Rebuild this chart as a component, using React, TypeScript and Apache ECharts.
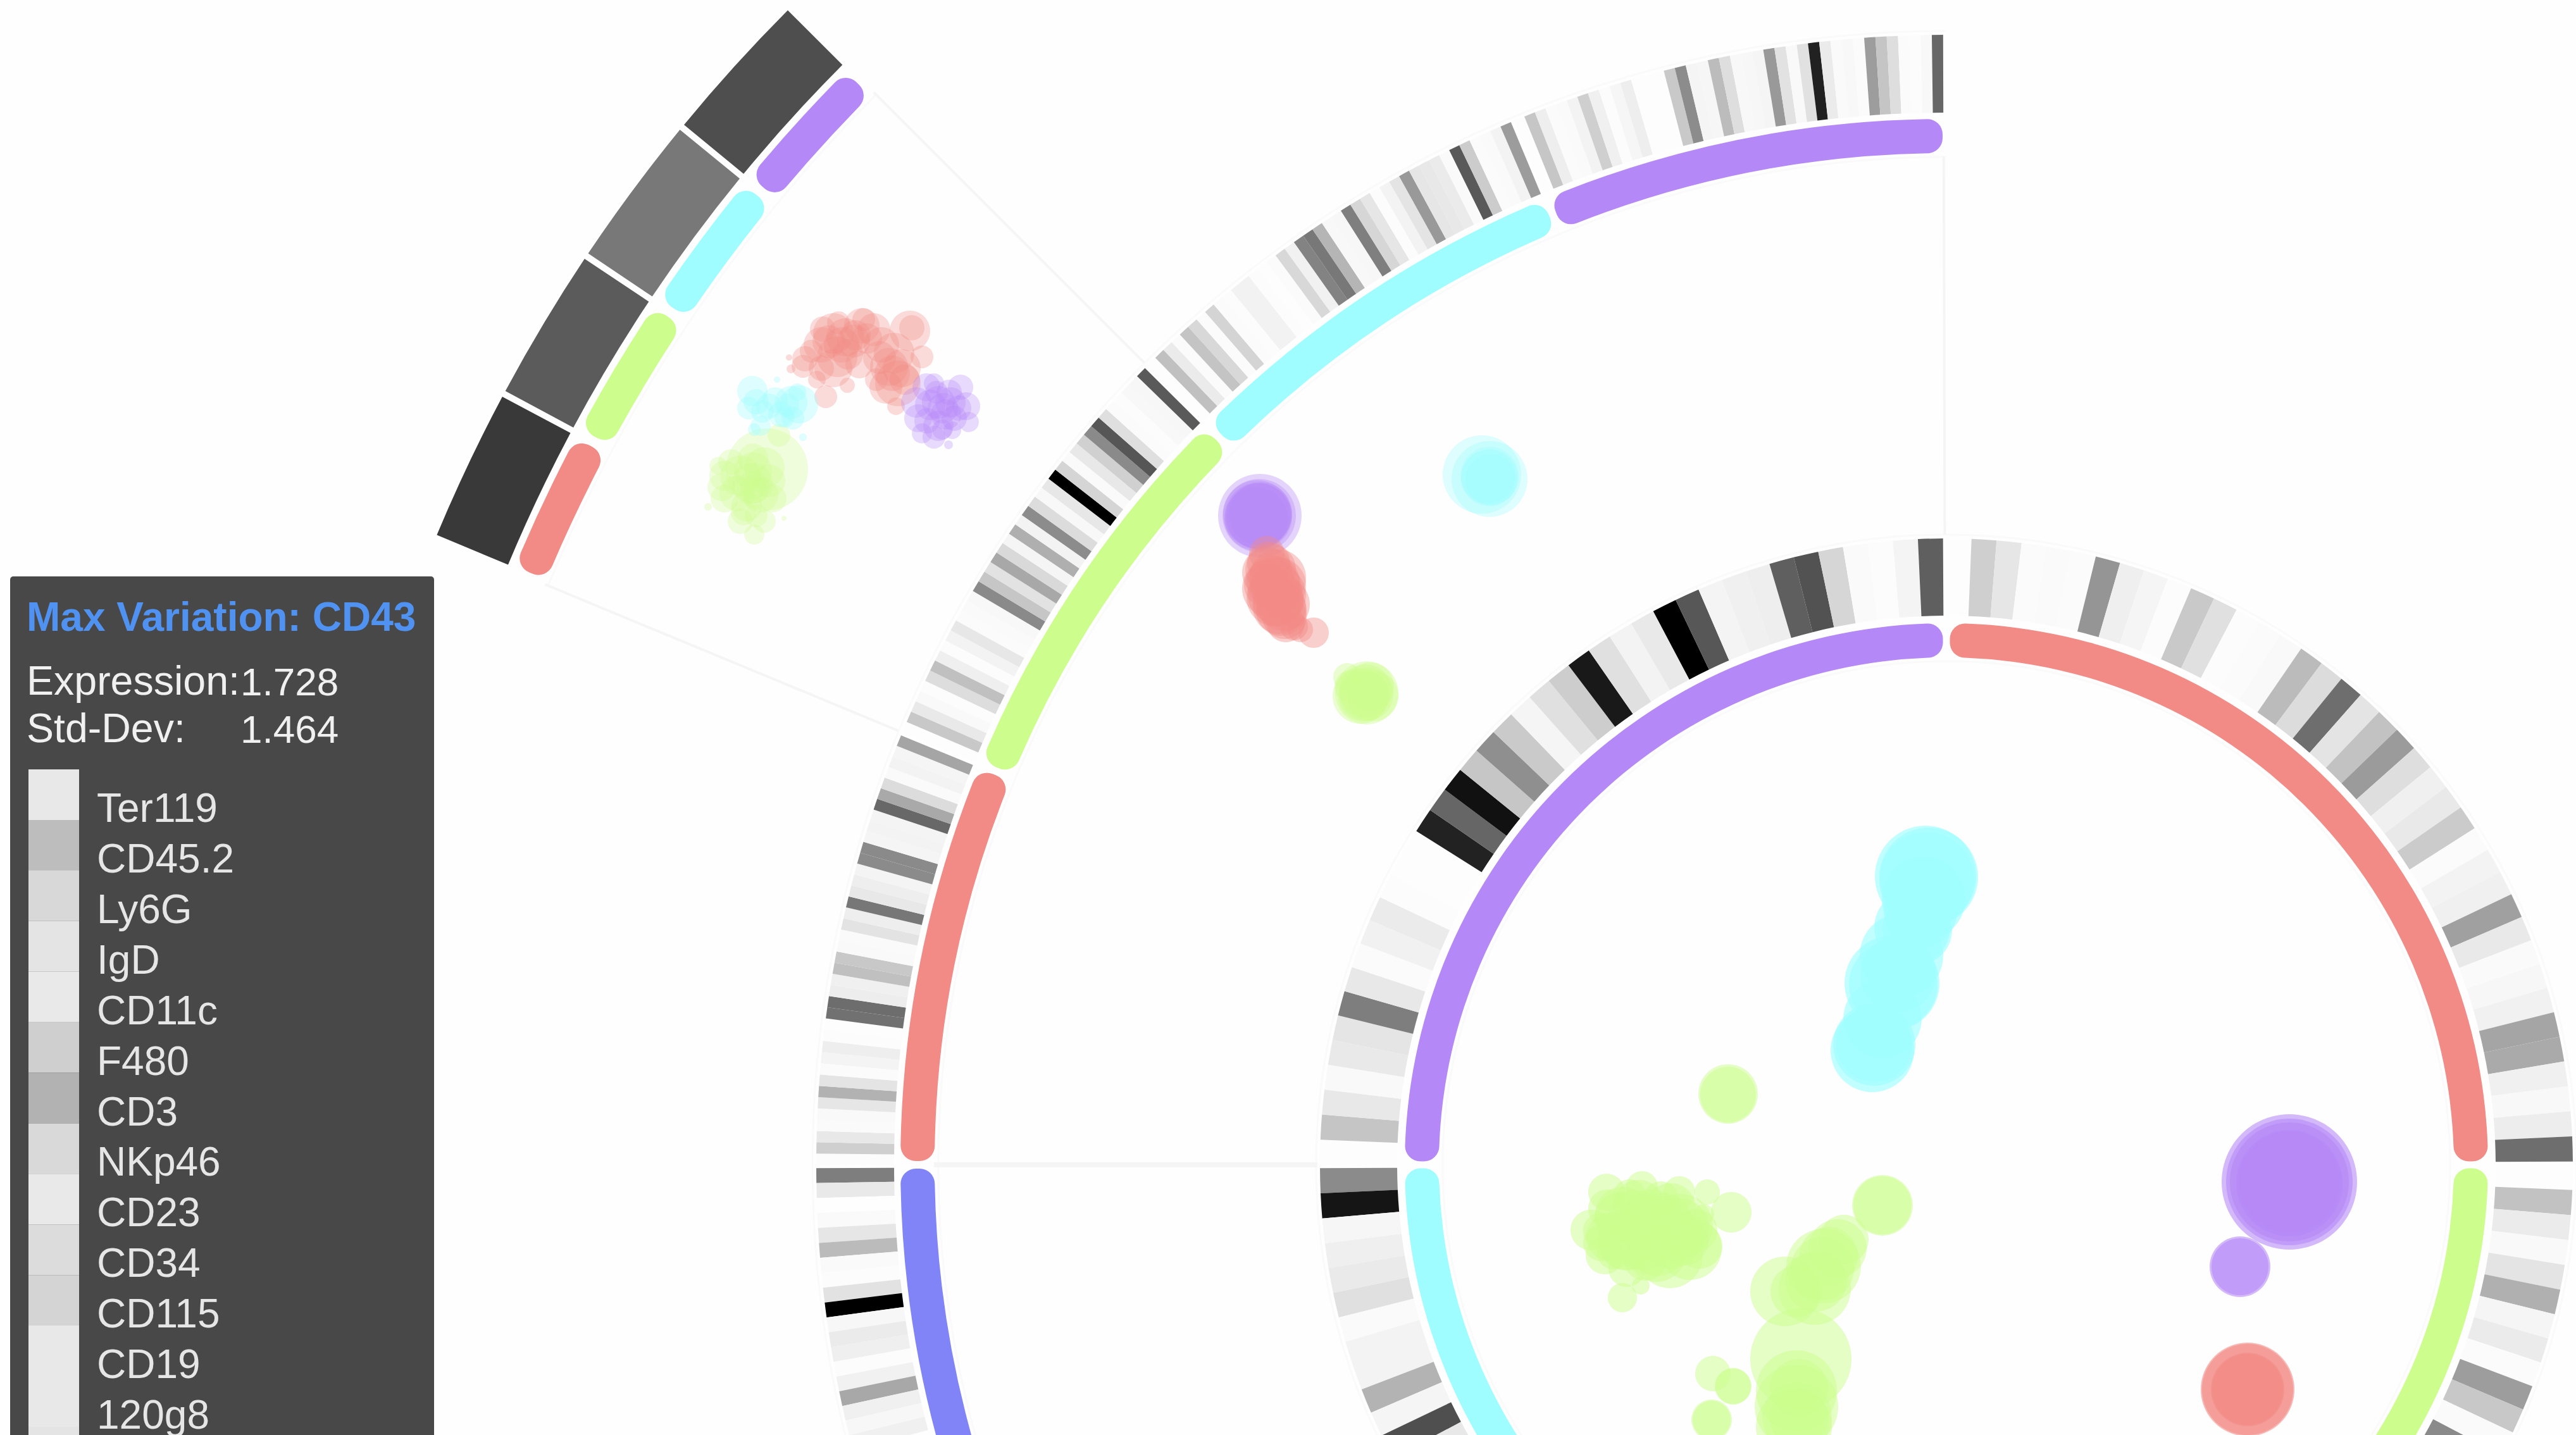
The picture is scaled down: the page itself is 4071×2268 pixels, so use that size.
import React, { useEffect, useRef } from "react";
import * as echarts from "echarts";

// ---------- marker legend ----------
const markers = ["Ter119", "CD45.2", "Ly6G", "IgD", "CD11c", "F480", "CD3", "NKp46", "CD23", "CD34", "CD115", "CD19", "120g8"];
const legendShades = [0xe8, 0xbd, 0xd8, 0xe4, 0xe9, 0xcf, 0xb2, 0xd9, 0xe9, 0xdc, 0xd4, 0xe8, 0xe8];

// ---------- inner ring expression shades (clockwise, 39 markers per cluster) ----------
const innerRed = [0xfd, 0xcf, 0xe6, 0xfb, 0xfa, 0xfb, 0x95, 0xef, 0xf5, 0xfc, 0xc9, 0xe0, 0xfc, 0xfb, 0xf9, 0xbb, 0xdc, 0x6e, 0xe4, 0xc2, 0x9b, 0xde, 0xf0, 0xe9, 0xcb, 0xfb, 0xf3, 0xf0, 0xa0, 0xe9, 0xfa, 0xf7, 0xf1, 0xa5, 0xaa, 0xf0, 0xf8, 0xed, 0x6e];
const innerGreen = [0xfd, 0xc2, 0xeb, 0xf9, 0xe4, 0xb0, 0xf5, 0xeb, 0xfb, 0x9d, 0xc8, 0xfa, 0x8a];
const innerCyanFromEnd = [0x8b, 0x15, 0xf6, 0xef, 0xea, 0xe0, 0xfa, 0xf3, 0xf3, 0xb3, 0xf5, 0x4f, 0xe8];
const innerPurple = [0xfd, 0xc5, 0xe8, 0xf9, 0xe9, 0xe5, 0x7e, 0xe8, 0xfb, 0xf1, 0xeb, 0xfc, 0xfd, 0xfd, 0x22, 0x66, 0x11, 0xc6, 0x8f, 0xca, 0xf5, 0xe0, 0xcd, 0x19, 0xe0, 0xf3, 0xe9, 0x00, 0x57, 0xf4, 0xf0, 0xee, 0x5f, 0x52, 0xd6, 0xfa, 0xfc, 0xf4, 0x5f];

// ---------- middle ring expression shades ----------
const middleRed = [0xfc, 0xcf, 0xe8, 0xfa, 0xf9, 0xe6, 0xb2, 0xe4, 0xfb, 0xf4, 0xee, 0xfc, 0xfd, 0x71, 0x6d, 0xed, 0xf0, 0xc0, 0xc8, 0xf9, 0xfa, 0xe3, 0xee, 0x77, 0xe8, 0xee, 0xf4, 0x8b, 0x8a, 0xf5, 0xf3, 0xf4, 0x68, 0xa9, 0xdc, 0xfa, 0xf3, 0xf5, 0xa5];
const middleGreen = [0xfd, 0xc8, 0xe9, 0xf9, 0xfc, 0xdd, 0xc0, 0xef, 0xfc, 0xf3, 0xe7, 0xfb, 0xfa, 0xf8, 0x8a, 0xc6, 0xe2, 0xa8, 0xd9, 0xf5, 0xaf, 0xf3, 0x8c, 0xdc, 0xf8, 0xe7, 0x00, 0xd5, 0xfa, 0xe8, 0xd0, 0x8a, 0x56, 0xdf, 0xfb, 0xfc, 0xf8, 0xf7, 0x5a];
const middleCyan = [0xfd, 0xc0, 0xeb, 0xfb, 0xc4, 0xd8, 0xfb, 0xd4, 0xfb, 0xfc, 0xf2, 0xf2, 0xfc, 0xfd, 0xfb, 0xd8, 0xf1, 0x83, 0x78, 0xb5, 0xf8, 0xf7, 0x7f, 0xd6, 0xe6, 0xfc, 0xf3, 0xe4, 0x99, 0xe6, 0xe8, 0xeb, 0xfa, 0x59, 0xcc, 0xfb, 0xfa, 0xf3, 0x9c];
const middlePurple = [0xfd, 0xc6, 0xee, 0xfb, 0xfa, 0xf3, 0xcf, 0xf0, 0xfc, 0xf6, 0xee, 0xfd, 0xfd, 0xfd, 0xc9, 0x8c, 0xf5, 0xf6, 0xbc, 0xde, 0xf8, 0xf7, 0xf5, 0x99, 0xe2, 0xf9, 0xe1, 0x21, 0xeb, 0xfa, 0xf8, 0xfb, 0x9d, 0xc5, 0xde, 0xfb, 0xfc, 0xf8, 0x67];
const middleBlueFromEnd = [0x7e, 0xe9, 0xfe, 0xfa, 0xe6, 0xbb, 0xfa, 0xfc, 0xe2, 0x00, 0xf7, 0xeb, 0xef, 0xfc, 0xf1, 0xa8, 0xf0, 0xf7, 0xf0];

// ---------- lens ring ----------
const lensShades = [0x39, 0x5b, 0x78, 0x4e];

// ---------- scatter clusters: [x, y, radius] ----------
const lensRedCells = [[1317,527,32],[1336,533,30],[1362,515,28],[1381,521,26],[1298,545,28],[1323,564,32],[1349,539,26],[1272,567,20],[1269,579,18],[1298,582,20],[1317,582,30],[1358,576,22],[1393,545,28],[1413,558,32],[1425,582,30],[1419,606,36],[1400,612,26],[1441,518,20],[1438,523,32],[1457,564,18],[1305,627,18],[1291,600,14],[1339,609,12],[1416,642,14],[1247,565,5],[1250,583,7],[1330,545,28],[1405,580,30],[1352,530,24],[1310,540,26],[1340,560,24],[1370,535,24],[1390,565,26],[1410,590,28],[1300,520,20],[1325,510,18],[1365,505,18],[1385,600,18],[1282,555,18],[1430,600,24]];
const lensPurpleCells = [[1483,636,26],[1502,636,24],[1464,612,22],[1518,612,20],[1451,661,22],[1483,673,24],[1508,661,20],[1527,642,22],[1531,667,16],[1457,685,16],[1476,691,18],[1448,636,24],[1476,606,16],[1499,703,7],[1489,679,16],[1490,645,24],[1470,640,24],[1500,620,20],[1495,655,24],[1465,665,20],[1515,645,20],[1480,620,18],[1505,680,14]];
const lensCyanCells = [[1189,618,24],[1183,645,18],[1215,642,20],[1250,636,26],[1263,639,30],[1234,655,20],[1253,661,18],[1202,673,16],[1269,691,6],[1228,600,5],[1192,679,10],[1245,640,18],[1195,635,20],[1225,632,20],[1240,660,16],[1205,650,18],[1260,620,14]];
const lensGreenCells = [[1212,742,65],[1231,688,18],[1189,764,32],[1170,752,32],[1208,739,32],[1202,782,28],[1145,752,24],[1145,788,22],[1170,824,20],[1208,824,18],[1192,845,16],[1119,801,6],[1239,819,4],[1135,736,14],[1221,788,22],[1190,770,26],[1165,780,28],[1190,745,30],[1180,800,24],[1140,770,22],[1155,730,20],[1190,725,24],[1215,760,26],[1175,810,20],[1195,815,18],[1190,770,20]];

const midCyanCells = [[2342,750,62],[2354,757,60],[2354,755,45],[2352,753,42],[2356,758,40],[2354,752,46]];
const midPurpleCells = [[1991,815,66],[1990,815,58],[1987,813,54],[1990,816,52],[1988,815,52],[1985,820,50],[1992,812,50]];
const midRedCells = [[2002,875,28],[2019,913,45],[2003,905,40],[2010,930,47],[2015,945,45],[2025,965,40],[2030,975,35],[2076,1000,24],[2045,990,22],[2020,950,40],[2012,920,42],[2005,890,34],[2020,925,44],[2018,940,46],[2028,955,42],[2032,985,30],[2055,995,20],[2008,900,40],[2022,960,42],[2000,925,34]];
const midGreenCells = [[2160,1095,50],[2129,1070,22],[2160,1097,42],[2155,1100,40],[2165,1085,38],[2150,1100,44],[2170,1100,40],[2158,1092,42],[2135,1085,26]];

const coreCyanCells = [[3043,1385,80],[3045,1390,75],[3048,1386,78],[3022,1466,60],[3030,1470,55],[3035,1440,58],[2990,1554,75],[3000,1540,60],[2992,1556,70],[3005,1510,66],[2962,1651,65],[2959,1660,66],[2962,1650,60],[2975,1610,62],[3040,1420,66]];
const coreGreenCells = [[2731,1729,47],[2731,1730,44],[2539,1884,29],[2595,1876,25],[2654,1884,25],[2698,1884,20],[2736,1916,32],[2693,1919,16],[2514,1944,32],[2536,1984,30],[2571,2005,29],[2564,1919,43],[2611,1930,50],[2657,1937,50],[2618,1980,46],[2571,1962,46],[2671,1973,50],[2686,1969,36],[2639,1984,52],[2564,2051,23],[2593,2032,14],[2560,1925,40],[2610,1935,46],[2655,1940,46],[2620,1975,42],[2570,1965,42],[2530,1945,28],[2550,1980,26],[2575,1890,26],[2625,1895,28],[2590,1905,40],[2640,1910,40],[2540,1910,30],[2545,1955,38],[2595,1960,48],[2640,1955,50],[2600,1990,34],[2660,1960,40],[2680,1945,34],[2530,1965,28],[2585,1925,44],[2630,1930,44],[2975,1905,48],[2975,1905,46],[2821,2041,55],[2839,2041,41],[2868,2037,57],[2882,2001,59],[2904,1973,46],[2914,1959,39],[2880,2005,50],[2870,2025,48],[2890,1985,46],[2846,2148,80],[2839,2198,64],[2843,2194,46],[2839,2223,66],[2825,2276,68],[2843,2241,46],[2789,2284,36],[2879,2291,18],[2707,2171,28],[2739,2191,29],[2739,2191,28],[2705,2244,32],[2705,2244,30],[2654,2316,77],[2840,2240,55],[2830,2270,60],[2835,2255,60],[2815,2290,60],[2845,2280,50]];
const corePurpleCells = [[3618,1868,107],[3618,1868,100],[3618,1868,94],[3618,1870,84],[3618,1868,80],[3540,2002,48],[3540,2002,45]];
const coreRedCells = [[3552,2196,74],[3552,2196,72],[3552,2196,58],[3552,2196,56],[3635,2290,40],[3635,2290,38]];

// ---------- colours and ring geometry ----------
const RED = "#f28a85", GREEN = "#ccfd8d", CYAN = "#a0fdff", PURPLE = "#b588f7", BLUE = "#8084f7";
const rgba = (hex: string, a: number) => {
  const n = parseInt(hex.slice(1), 16);
  return `rgba(${n >> 16},${(n >> 8) & 255},${n & 255},${a})`;
};
const RAD = 180 / Math.PI;

const innerBand: [number, number] = [802, 856];
const innerHeat: [number, number] = [868, 990];
const midBand: [number, number] = [1599, 1653];
const midHeat: [number, number] = [1663, 1786];
const lensBand: [number, number] = [2398, 2452];
const lensHeat: [number, number] = [2463, 2585];

function stripes(values: number[], start: number, span: number, radii: [number, number], fromEnd = false) {
  const shift = (5 / ((radii[0] + radii[1]) / 2)) * RAD;
  const w = (span - shift) / 39;
  return values.map((v, i) => {
    const idx = fromEnd ? 38 - i : i;
    return [radii[0], radii[1], start + idx * w, start + (idx + 1) * w, v];
  });
}
function band(start: number, end: number, radii: [number, number], color: string, gap: number) {
  const g = (gap / ((radii[0] + radii[1]) / 2)) * RAD;
  return { row: [radii[0], radii[1], start + g, end - g, 0], color };
}

const stripeRows = [
  ...stripes(innerRed, 0, 90, innerHeat),
  ...stripes(innerGreen, 90, 90, innerHeat),
  ...stripes(innerCyanFromEnd, 180, 90, innerHeat, true),
  ...stripes(innerPurple, 270, 90, innerHeat),
  ...stripes(middleRed, 270, 22.5, midHeat),
  ...stripes(middleGreen, 292.5, 22.5, midHeat),
  ...stripes(middleCyan, 315, 22.5, midHeat),
  ...stripes(middlePurple, 337.5, 22.5, midHeat),
  ...stripes(middleBlueFromEnd, 240.2, 29.8, midHeat, true),
];
const lensRows = lensShades.map((v, i) => {
  const g = (5 / 2524) * RAD;
  const s = 292.5 + i * 5.625;
  return [lensHeat[0], lensHeat[1], s + (i ? g : 0.15), s + 5.625 - (i < 3 ? g : 0.1), v];
});
const bands = [
  band(0, 90, innerBand, RED, 5.5), band(90, 180, innerBand, GREEN, 5.5),
  band(180, 270, innerBand, CYAN, 5.5), band(270, 360, innerBand, PURPLE, 5.5),
  band(240, 270, midBand, BLUE, 6), band(270, 292.5, midBand, RED, 6),
  band(292.5, 315, midBand, GREEN, 6), band(315, 337.5, midBand, CYAN, 6),
  band(337.5, 360, midBand, PURPLE, 6),
  band(292.5, 298.125, lensBand, RED, 8), band(298.125, 303.75, lensBand, GREEN, 8),
  band(303.75, 309.375, lensBand, CYAN, 8), band(309.375, 315, lensBand, PURPLE, 8),
];
// radial guides: [r from, r to, angle, width]
const guides = [
  [994, 1600, 270, 8], [1793, 2397, 292.5, 4], [1793, 2397, 315, 4], [996, 1594, 359.85, 4],
];
// faint rims: [r, from angle, to angle]
const rims = [
  [796, 0, 360], [996, 0, 360], [1593, 240, 360], [1792, 240, 360], [2392, 292.5, 315],
];

function sectorItem(params: any, api: any, fill: string, corner: number) {
  const { cx, cy } = params.coordSys;
  const r0 = api.value(0), r1 = api.value(1);
  const p0 = api.coord([r1, api.value(2)]);
  const p1 = api.coord([r1, api.value(3)]);
  let a0 = Math.atan2(p0[1] - cy, p0[0] - cx);
  let a1 = Math.atan2(p1[1] - cy, p1[0] - cx);
  if (a1 < a0) a1 += Math.PI * 2;
  return {
    type: "sector",
    shape: { cx, cy, r0, r: r1, startAngle: a0, endAngle: a1, clockwise: true, cornerRadius: corner },
    style: { fill },
  };
}

const cellSeries = (name: string, cells: number[][], color: string, alpha: number) => ({
  name,
  type: "scatter",
  coordinateSystem: "cartesian2d",
  xAxisIndex: 0,
  yAxisIndex: 0,
  data: cells,
  symbol: "circle",
  symbolSize: (v: number[]) => v[2] * 2,
  itemStyle: { color: rgba(color, alpha), borderWidth: 0, opacity: 1 },
  silent: true,
  z: 5,
});

export default function App() {
  const ref = useRef<HTMLDivElement>(null);
  useEffect(() => {
    const chart = echarts.init(ref.current!, null, { renderer: "svg" });
    const font = '"Liberation Sans", Arial, sans-serif';
    chart.setOption({
      animation: false,
      backgroundColor: "#fefefe",
      polar: { center: [3076, 1841], radius: [0, 2600] },
      radiusAxis: { type: "value", min: 0, max: 2600, show: false },
      angleAxis: { type: "value", min: 0, max: 360, startAngle: 90, clockwise: true, show: false },
      grid: [
        { left: 0, top: 0, width: 4071, height: 2268 },
        { left: 45, top: 1216, width: 80, height: 1040 },
      ],
      xAxis: [
        { type: "value", gridIndex: 0, min: 0, max: 4071, show: false },
        { type: "value", gridIndex: 1, min: 0, max: 1, show: false },
      ],
      yAxis: [
        { type: "value", gridIndex: 0, min: 0, max: 2268, inverse: true, show: false },
        {
          type: "category",
          gridIndex: 1,
          data: markers,
          inverse: true,
          position: "right",
          axisLine: { show: false },
          axisTick: { show: false },
          splitLine: { show: false },
          axisLabel: {
            show: true, interval: 0, margin: 28, align: "left", color: "#e6e6e6",
            fontSize: 64, fontFamily: font, verticalAlign: "top", lineHeight: 42,
          },
        },
      ],
      graphic: [
        { type: "rect", z: -1, silent: true, shape: { x: 16, y: 911, width: 670, height: 1400, r: 5 }, style: { fill: "#484848" } },
        { type: "rect", z: 0, silent: true, shape: { x: 45, y: 2248, width: 80, height: 20 }, style: { fill: "#e4e4e4" } },
        { type: "text", silent: true, style: { x: 42, y: 1007, text: "Max Variation: CD43", fill: "#4f92f2", font: `bold 64px ${font}`, verticalAlign: "bottom" } },
        { type: "text", silent: true, style: { x: 42, y: 1108, text: "Expression:", fill: "#f0f0f0", font: `64.5px ${font}`, verticalAlign: "bottom" } },
        { type: "text", silent: true, style: { x: 380, y: 1108, text: "1.728", fill: "#f0f0f0", font: `62px ${font}`, verticalAlign: "bottom" } },
        { type: "text", silent: true, style: { x: 42, y: 1183, text: "Std-Dev:", fill: "#f0f0f0", font: `64.5px ${font}`, verticalAlign: "bottom" } },
        { type: "text", silent: true, style: { x: 380, y: 1183, text: "1.464", fill: "#f0f0f0", font: `62px ${font}`, verticalAlign: "bottom" } },
      ],
      series: [
        {
          name: "rims", type: "custom", coordinateSystem: "polar", silent: true, z: 1,
          encode: { radius: 0, angle: 1 }, data: rims,
          renderItem: (params: any, api: any) => {
            const { cx, cy } = params.coordSys;
            const r = api.value(0);
            const p0 = api.coord([r, api.value(1)]);
            const p1 = api.coord([r, api.value(2) - 0.01]);
            let a0 = Math.atan2(p0[1] - cy, p0[0] - cx);
            let a1 = Math.atan2(p1[1] - cy, p1[0] - cx);
            if (a1 < a0) a1 += Math.PI * 2;
            return { type: "arc", shape: { cx, cy, r, startAngle: a0, endAngle: a1, clockwise: true }, style: { stroke: "#fafafa", fill: null, lineWidth: 3 } };
          },
        },
        {
          name: "guides", type: "custom", coordinateSystem: "polar", silent: true, z: 1,
          encode: { radius: 0, angle: 2 }, data: guides,
          renderItem: (_: any, api: any) => {
            const a = api.coord([api.value(0), api.value(2)]);
            const b = api.coord([api.value(1), api.value(2)]);
            return { type: "line", shape: { x1: a[0], y1: a[1], x2: b[0], y2: b[1] }, style: { stroke: "#f5f5f5", lineWidth: api.value(3) } };
          },
        },
        {
          name: "marker expression", type: "custom", coordinateSystem: "polar", silent: true, z: 2,
          encode: { radius: 0, angle: 2 }, data: [...stripeRows, ...lensRows],
          renderItem: (params: any, api: any) => {
            const g = api.value(4);
            return sectorItem(params, api, `rgb(${g},${g},${g})`, 0);
          },
        },
        {
          name: "clusters", type: "custom", coordinateSystem: "polar", silent: true, z: 3,
          encode: { radius: 0, angle: 2 }, data: bands.map((b) => b.row),
          renderItem: (params: any, api: any) => sectorItem(params, api, bands[params.dataIndex].color, 24),
        },
        cellSeries("lens red", lensRedCells, RED, 0.3),
        cellSeries("lens green", lensGreenCells, GREEN, 0.3),
        cellSeries("lens cyan", lensCyanCells, CYAN, 0.35),
        cellSeries("lens purple", lensPurpleCells, PURPLE, 0.3),
        cellSeries("mid cyan", midCyanCells, CYAN, 0.35),
        cellSeries("mid purple", midPurpleCells, PURPLE, 0.35),
        cellSeries("mid red", midRedCells, RED, 0.4),
        cellSeries("mid green", midGreenCells, GREEN, 0.4),
        cellSeries("core cyan", coreCyanCells, CYAN, 0.65),
        cellSeries("core green", coreGreenCells, GREEN, 0.5),
        cellSeries("core purple", corePurpleCells, PURPLE, 0.6),
        cellSeries("core red", coreRedCells, RED, 0.6),
        {
          name: "legend shades", type: "bar", xAxisIndex: 1, yAxisIndex: 1, silent: true, z: 4,
          barWidth: 80,
          data: legendShades.map((g) => ({ value: 1, itemStyle: { color: `rgb(${g},${g},${g})` } })),
        },
      ],
    });
    return () => chart.dispose();
  }, []);
  return <div ref={ref} style={{ position: "fixed", left: 0, top: 0, width: 4071, height: 2268 }} />;
}
